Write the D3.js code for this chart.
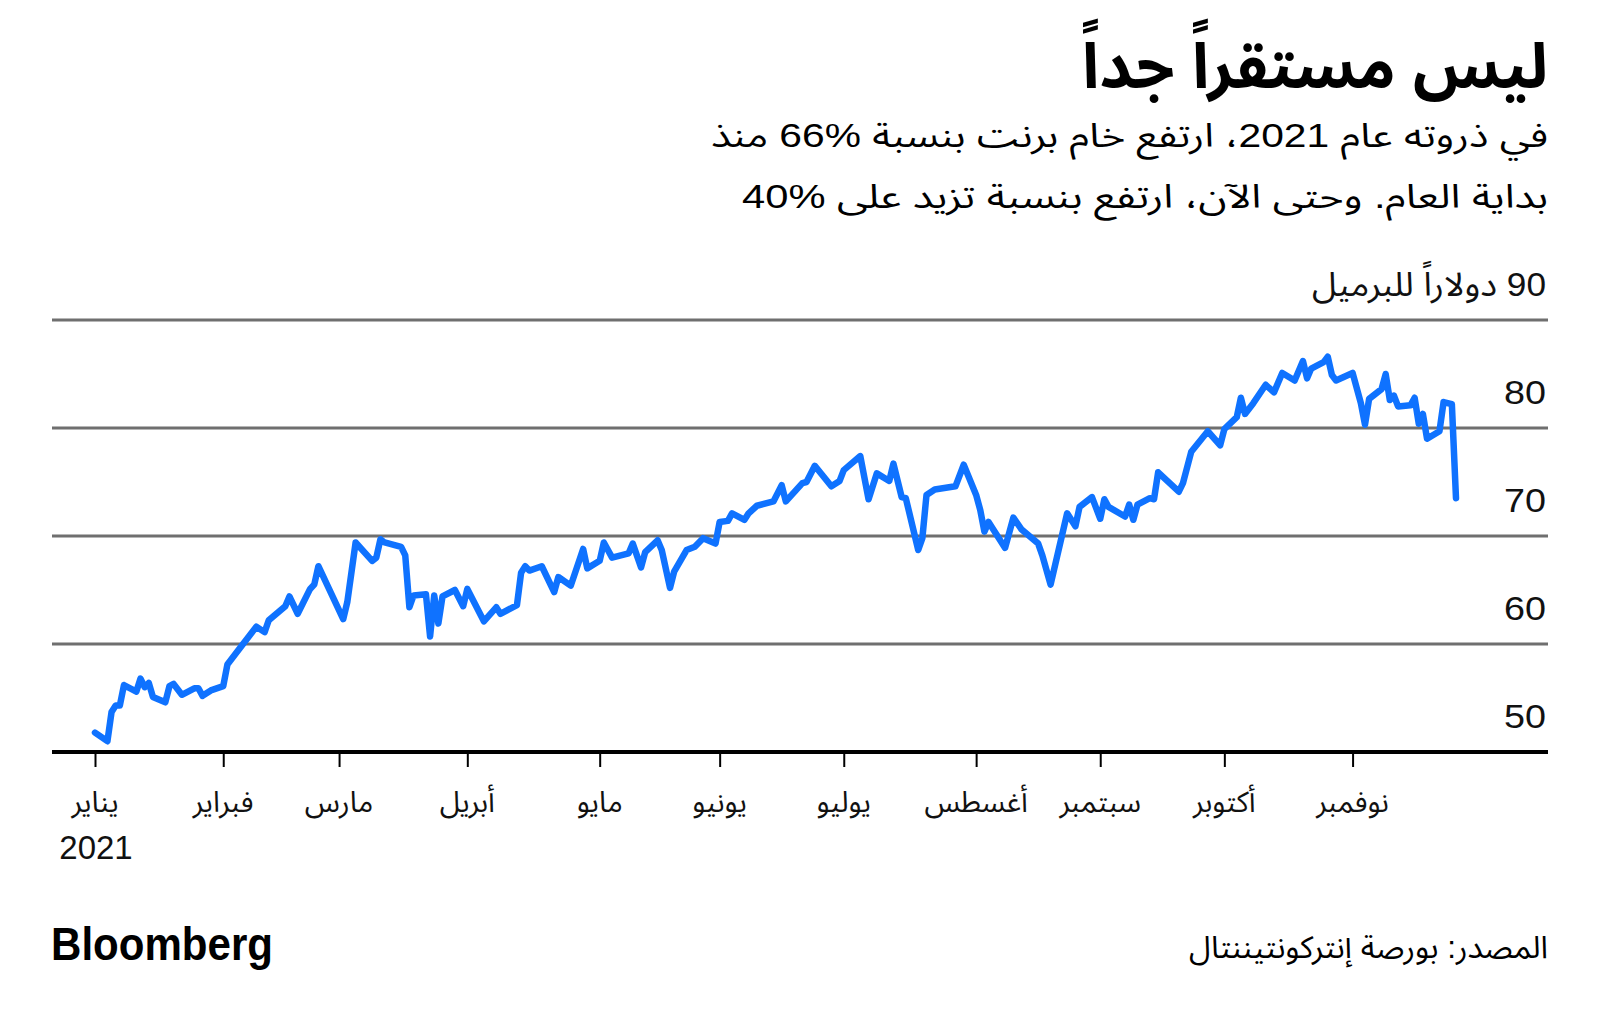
<!DOCTYPE html>
<html><head><meta charset="utf-8">
<script src="https://cdn.jsdelivr.net/npm/d3@7"></script>
<style>
html,body{margin:0;padding:0;background:#fff;}
svg{display:block;}
</style></head>
<body><svg id="chart" width="1600" height="1024"></svg>
<script>
// ---------- data ----------
const titleText = "ليس مستقراً جداً";
const subtitleLines = [
  "في ذروته عام 2021، ارتفع خام برنت بنسبة \u202A66%\u202C منذ",
  "بداية العام. وحتى الآن، ارتفع بنسبة تزيد على \u202A40%\u202C"
];
const unitText = "90 دولاراً للبرميل";
const sourceText = "المصدر: بورصة إنتركونتيننتال";
const brandText = "Bloomberg";
const yearLabel = "2021";

const monthTickDates = ["2021-01-01","2021-02-01","2021-03-01","2021-04-01","2021-05-03","2021-06-01",
  "2021-07-01","2021-08-02","2021-09-01","2021-10-01","2021-11-01"];
const monthLabels = ["يناير","فبراير","مارس","أبريل","مايو","يونيو","يوليو","أغسطس","سبتمبر","أكتوبر","نوفمبر"];
const yTicks = [50, 60, 70, 80, 90];
const yTickLabels = ["50", "60", "70", "80", unitText];

const dates = [
  "2021-01-01","2021-01-04","2021-01-05","2021-01-06","2021-01-07","2021-01-08",
  "2021-01-11","2021-01-12","2021-01-13","2021-01-14","2021-01-15",
  "2021-01-18","2021-01-19","2021-01-20","2021-01-22",
  "2021-01-25","2021-01-26","2021-01-27","2021-01-29",
  "2021-02-01","2021-02-02","2021-02-05",
  "2021-02-09","2021-02-11","2021-02-12",
  "2021-02-16","2021-02-17","2021-02-19",
  "2021-02-22","2021-02-23","2021-02-24",
  "2021-03-02","2021-03-03","2021-03-05",
  "2021-03-09","2021-03-10","2021-03-11","2021-03-12",
  "2021-03-16","2021-03-17","2021-03-18","2021-03-19",
  "2021-03-22","2021-03-23","2021-03-24","2021-03-25","2021-03-26",
  "2021-03-29","2021-03-31","2021-04-01",
  "2021-04-05","2021-04-08","2021-04-09",
  "2021-04-13","2021-04-14","2021-04-15","2021-04-16",
  "2021-04-19","2021-04-22","2021-04-23",
  "2021-04-26","2021-04-29","2021-04-30",
  "2021-05-03","2021-05-04","2021-05-06",
  "2021-05-10","2021-05-11","2021-05-13","2021-05-14",
  "2021-05-17","2021-05-18","2021-05-20","2021-05-21",
  "2021-05-24","2021-05-26","2021-05-28",
  "2021-05-31","2021-06-01","2021-06-03","2021-06-04",
  "2021-06-07","2021-06-08","2021-06-10",
  "2021-06-14","2021-06-16","2021-06-17",
  "2021-06-21","2021-06-22","2021-06-24",
  "2021-06-28","2021-06-30","2021-07-01",
  "2021-07-05","2021-07-07","2021-07-09",
  "2021-07-12","2021-07-13","2021-07-15","2021-07-16",
  "2021-07-19","2021-07-20","2021-07-21","2021-07-23",
  "2021-07-28","2021-07-30",
  "2021-08-02","2021-08-03","2021-08-04","2021-08-05",
  "2021-08-09","2021-08-11","2021-08-13",
  "2021-08-17","2021-08-18","2021-08-20",
  "2021-08-24","2021-08-26","2021-08-27",
  "2021-08-30","2021-09-01","2021-09-02","2021-09-03",
  "2021-09-07","2021-09-08","2021-09-09","2021-09-10",
  "2021-09-13","2021-09-14","2021-09-15",
  "2021-09-20","2021-09-21","2021-09-23",
  "2021-09-27","2021-09-30","2021-10-01",
  "2021-10-04","2021-10-05","2021-10-06","2021-10-08",
  "2021-10-11","2021-10-13","2021-10-15",
  "2021-10-18","2021-10-20","2021-10-21","2021-10-22",
  "2021-10-25","2021-10-26","2021-10-27","2021-10-28",
  "2021-11-01","2021-11-03","2021-11-04","2021-11-05",
  "2021-11-08","2021-11-09","2021-11-10","2021-11-11","2021-11-12",
  "2021-11-15","2021-11-16","2021-11-17","2021-11-18","2021-11-19",
  "2021-11-22","2021-11-23","2021-11-24","2021-11-25","2021-11-26"
];
const prices = [
  51.8, 51.0, 53.7, 54.3, 54.3, 56.2,
  55.6, 56.8, 56.0, 56.4, 55.1,
  54.6, 56.1, 56.3, 55.3,
  55.9, 55.9, 55.2, 55.7,
  56.1, 58.1, 59.6,
  61.6, 61.1, 62.2,
  63.5, 64.4, 62.8,
  65.1, 65.5, 67.2,
  62.3, 63.9, 69.4,
  67.7, 68.0, 69.7, 69.4,
  69.0, 68.2, 63.4, 64.5,
  64.6, 60.7, 64.5, 61.9, 64.4,
  65.0, 63.5, 65.1,
  62.1, 63.4, 62.8,
  63.6, 66.6, 67.2, 66.8,
  67.2, 64.8, 66.2,
  65.4, 68.8, 67.0,
  67.7, 69.4, 68.0,
  68.4, 69.3, 67.1, 68.5,
  69.6, 68.7, 65.2, 66.7,
  68.7, 69.0, 69.8,
  69.3, 71.3, 71.4, 72.1,
  71.5, 72.1, 72.8,
  73.2, 74.7, 73.2,
  74.9, 75.0, 76.5,
  74.6, 75.1, 76.1,
  77.4, 73.4, 75.8,
  75.1, 76.7, 73.6, 73.5,
  68.7, 69.8, 73.8, 74.3,
  74.6, 76.6,
  73.8, 72.4, 70.4, 71.3,
  68.9, 71.7, 70.6,
  69.3, 68.2, 65.5,
  72.1, 70.9, 72.7,
  73.6, 71.6, 73.4, 72.7,
  71.8, 72.9, 71.5, 72.9,
  73.5, 73.4, 75.9,
  74.1, 74.9, 77.8,
  79.7, 78.4, 79.9,
  81.0, 82.8, 81.3, 82.3,
  84.0, 83.3, 85.1,
  84.4, 86.2, 84.6, 85.5,
  86.1, 86.6, 84.9, 84.4,
  85.1, 82.3, 80.3, 82.7,
  83.6, 85.0, 82.6, 83.0, 82.0,
  82.1, 82.8, 80.4, 81.3, 79.0,
  79.7, 82.4, 82.3, 82.2, 73.5
];

// ---------- drawing ----------
const parse = d3.utcParse("%Y-%m-%d");
const series = dates.map((d, i) => ({date: parse(d), value: prices[i]}));

const FONT = '"Liberation Sans", "Noto Sans Arabic", "Noto Naskh Arabic", "DejaVu Sans", Arial, sans-serif';
const svg = d3.select("#chart");
svg.append("rect").attr("width", 1600).attr("height", 1024).attr("fill", "#fff");

const plotLeft = 52, plotRight = 1548;
const x = d3.scaleUtc()
  .domain([parse("2021-01-01"), parse("2021-11-26")])
  .range([95, 1456]);
const y = d3.scaleLinear().domain([50, 90]).range([752, 320]);

// gridlines
svg.append("g").selectAll("line").data(yTicks.filter(v => v !== 50)).join("line")
  .attr("x1", plotLeft).attr("x2", plotRight)
  .attr("y1", d => y(d)).attr("y2", d => y(d))
  .attr("stroke", "#6f6f6f").attr("stroke-width", 3);

// y labels (above gridlines, right aligned)
svg.append("g").selectAll("text").data(yTicks).join("text")
  .attr("x", 1546).attr("y", d => y(d) - 24)
  .attr("direction", "rtl").attr("text-anchor", "start")
  .attr("font-family", FONT).attr("font-size", 33).attr("fill", "#111")
  .attr("textLength", (d, i) => i === yTicks.length - 1 ? 234 : 42)
  .attr("lengthAdjust", "spacingAndGlyphs")
  .text((d, i) => yTickLabels[i]);

// x axis ticks
const tickDates = monthTickDates.map(parse);
const xAxis = d3.axisBottom(x).tickValues(tickDates).tickSize(15).tickFormat("");
const gx = svg.append("g").attr("transform", `translate(0,${y(50)})`).call(xAxis);
gx.select(".domain").remove();
gx.selectAll(".tick line").attr("stroke", "#000").attr("stroke-width", 2);

// baseline
svg.append("line").attr("x1", plotLeft).attr("x2", plotRight)
  .attr("y1", y(50)).attr("y2", y(50))
  .attr("stroke", "#000").attr("stroke-width", 4);

// month labels
svg.append("g").selectAll("text").data(tickDates).join("text")
  .attr("x", d => x(d)).attr("y", 812)
  .attr("text-anchor", "middle")
  .attr("font-family", FONT).attr("font-size", 29).attr("fill", "#111")
  .text((d, i) => monthLabels[i]);
svg.append("text").attr("x", x(tickDates[0]) + 1).attr("y", 859)
  .attr("text-anchor", "middle")
  .attr("font-family", FONT).attr("font-size", 33).attr("fill", "#111")
  .text(yearLabel);

// price line
const line = d3.line().x(d => x(d.date)).y(d => y(d.value)).curve(d3.curveLinear);
svg.append("path").datum(series)
  .attr("d", line).attr("fill", "none")
  .attr("stroke", "#0f72ff").attr("stroke-width", 6.5)
  .attr("stroke-linejoin", "round").attr("stroke-linecap", "round");

// title & subtitle
svg.append("text").attr("x", 1548).attr("y", 88)
  .attr("direction", "rtl").attr("text-anchor", "start")
  .attr("font-family", FONT).attr("font-weight", 700).attr("font-size", 63).attr("fill", "#000")
  .attr("textLength", 466).attr("lengthAdjust", "spacingAndGlyphs")
  .text(titleText);
const subLengths = [837, 806];
svg.append("g").selectAll("text").data(subtitleLines).join("text")
  .attr("x", 1548).attr("y", (d, i) => 147 + i * 61)
  .attr("direction", "rtl").attr("text-anchor", "start")
  .attr("font-family", FONT).attr("font-size", 33).attr("fill", "#000")
  .attr("textLength", (d, i) => subLengths[i]).attr("lengthAdjust", "spacingAndGlyphs")
  .text(d => d);

// footer
svg.append("text").attr("x", 51).attr("y", 960)
  .attr("font-family", '"Liberation Sans", Arial, sans-serif').attr("font-weight", 700)
  .attr("font-size", 46).attr("fill", "#000")
  .attr("textLength", 222).attr("lengthAdjust", "spacingAndGlyphs")
  .text(brandText);
svg.append("text").attr("x", 1548).attr("y", 958)
  .attr("direction", "rtl").attr("text-anchor", "start")
  .attr("font-family", FONT).attr("font-size", 31).attr("fill", "#000")
  .attr("textLength", 359).attr("lengthAdjust", "spacingAndGlyphs")
  .text(sourceText);
</script>
</body></html>
